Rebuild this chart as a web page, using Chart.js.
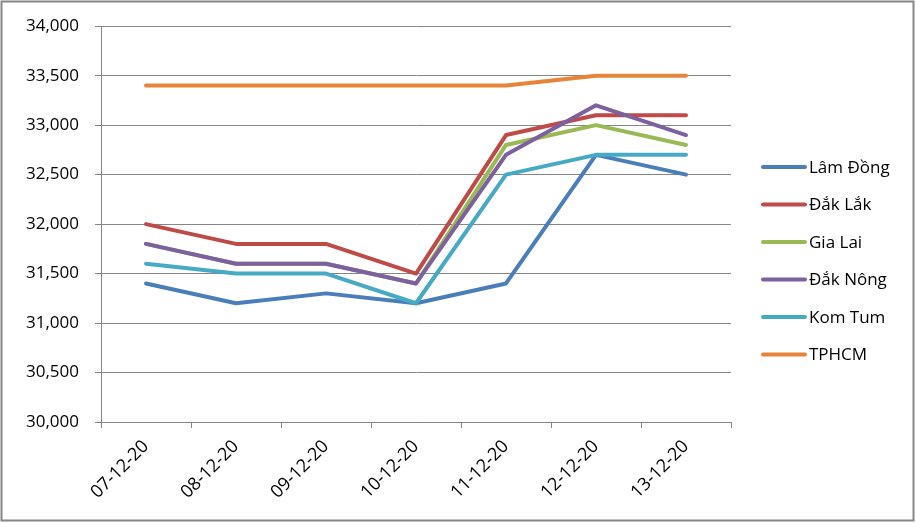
<!DOCTYPE html>
<html>
<head>
<meta charset="utf-8">
<script src="https://cdn.jsdelivr.net/npm/chart.js@4/dist/chart.umd.min.js"></script>
<style>
  html, body { margin: 0; padding: 0; background: #fff; }
  canvas { display: block; }
</style>
</head>
<body>
<canvas id="c" width="916" height="523"></canvas>
<script>
const categories = ['07-12-20', '08-12-20', '09-12-20', '10-12-20', '11-12-20', '12-12-20', '13-12-20'];
const seriesNames = ['Lâm Đồng', 'Đắk Lắk', 'Gia Lai', 'Đắk Nông', 'Kom Tum', 'TPHCM'];
const lamDong = [31400, 31200, 31300, 31200, 31400, 32700, 32500];
const dakLak  = [32000, 31800, 31800, 31500, 32900, 33100, 33100];
const giaLai  = [31800, 31600, 31600, 31400, 32800, 33000, 32800];
const dakNong = [31800, 31600, 31600, 31400, 32700, 33200, 32900];
const komTum  = [31600, 31500, 31500, 31200, 32500, 32700, 32700];
const tphcm   = [33400, 33400, 33400, 33400, 33400, 33500, 33500];
const seriesColors = ['#4A7EBB', '#BE4B48', '#98B954', '#7D60A0', '#46AAC5', '#E6843A'];
const yMin = 30000, yMax = 34000, yStep = 500;

const seriesValues = [lamDong, dakLak, giaLai, dakNong, komTum, tphcm];
const FONT = '"Open Sans", "Noto Sans", sans-serif';
const GRAY = '#868686';

const frame = {
  id: 'frame',
  beforeDraw(chart) {
    const ctx = chart.ctx;
    ctx.save();
    ctx.fillStyle = '#fff';
    ctx.fillRect(0, 0, chart.width, chart.height);
    ctx.restore();
  },
  afterDraw(chart) {
    const ctx = chart.ctx;
    ctx.save();
    ctx.strokeStyle = GRAY;
    ctx.lineWidth = 2;
    ctx.strokeRect(1.5, 1.5, 912, 519);
    // legend
    const x0 = 763, x1 = 805, tx = 809, y0 = 167, dy = 37.5;
    ctx.font = '17px ' + FONT;
    ctx.textBaseline = 'middle';
    ctx.textAlign = 'left';
    chart.data.datasets.forEach((ds, i) => {
      const y = y0 + i * dy;
      ctx.strokeStyle = ds.borderColor;
      ctx.lineWidth = 4;
      ctx.lineCap = 'round';
      ctx.beginPath();
      ctx.moveTo(x0, y);
      ctx.lineTo(x1, y);
      ctx.stroke();
      ctx.fillStyle = '#000';
      ctx.fillText(ds.label, tx, y + 1);
    });
    ctx.restore();
  }
};

new Chart(document.getElementById('c'), {
  type: 'line',
  data: {
    labels: categories,
    datasets: seriesNames.map((name, i) => ({
      label: name,
      data: seriesValues[i],
      borderColor: seriesColors[i],
      backgroundColor: seriesColors[i],
      borderWidth: 4,
      pointRadius: 0,
      pointHoverRadius: 0,
      tension: 0,
      borderCapStyle: 'round',
      borderJoinStyle: 'round',
      fill: false,
      order: seriesNames.length - 1 - i
    }))
  },
  options: {
    responsive: false,
    animation: false,
    events: [],
    layout: { padding: { top: 25, left: 0, right: 185, bottom: 0 } },
    plugins: { legend: { display: false }, tooltip: { enabled: false } },
    scales: {
      x: {
        type: 'category',
        offset: true,
        grid: { offset: true, drawOnChartArea: false, drawTicks: true, tickLength: 6, color: GRAY, lineWidth: 1 },
        border: { display: true, color: GRAY, width: 1 },
        ticks: { color: '#000', font: { family: FONT, size: 18 }, minRotation: 45, maxRotation: 45, autoSkip: false, padding: 8 },
        afterFit(scale) { scale.height = 523 - 422; }
      },
      y: {
        min: yMin, max: yMax,
        grid: { color: GRAY, lineWidth: 1, tickLength: 6 },
        border: { display: true, color: GRAY, width: 1 },
        ticks: {
          stepSize: yStep,
          color: '#000',
          padding: 16,
          font: { family: FONT, size: 17 },
          callback: v => v.toLocaleString('en-US')
        },
        afterFit(scale) { scale.width = 101; }
      }
    }
  },
  plugins: [frame]
});
</script>
</body>
</html>
